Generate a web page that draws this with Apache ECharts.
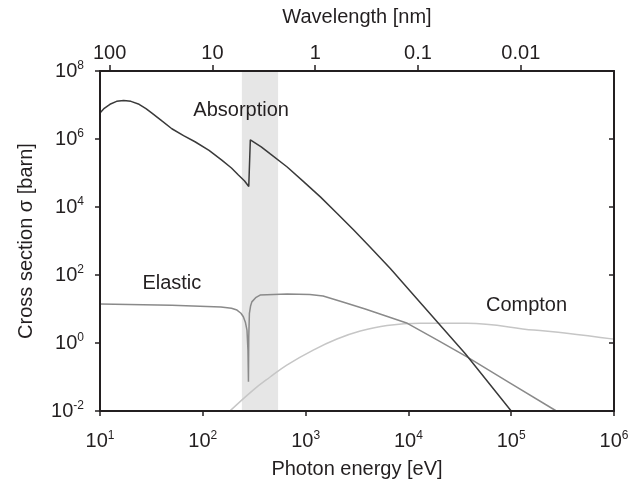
<!DOCTYPE html>
<html>
<head>
<meta charset="utf-8">
<script src="https://cdn.jsdelivr.net/npm/echarts@6/dist/echarts.min.js"></script>
<style>
  html, body { margin: 0; padding: 0; background: #fff; }
  #chart { width: 631px; height: 481px; }
</style>
</head>
<body>
<div id="chart"></div>
<script>
// photon energy [eV] <-> wavelength [nm]
const HC = 1239.84;

// absorption (dark line)
const absEnergy = [10, 11, 12.5, 14.5, 17, 20, 24, 28, 32, 40, 50, 65, 84, 115, 153, 190, 222, 255, 280, 290, 370, 450, 662, 955, 1400, 2018, 2938, 4256, 6668, 10430, 19500, 35800, 100000];
const absSigma = [5.8e6, 8e6, 1.05e7, 1.28e7, 1.35e7, 1.28e7, 1.05e7, 7.8e6, 5.8e6, 3.4e6, 2.0e6, 1.25e6, 8.3e5, 4.6e5, 2.4e5, 1.4e5, 8.7e4, 5.8e4, 4.0e4, 9.5e5, 5.9e5, 3.7e5, 1.5e5, 5.58e4, 1.95e4, 6530, 2100, 653, 155, 33.2, 3.9, 0.48, 0.01];

// elastic (mid grey)
const elaEnergy = [10, 50, 150, 190, 215, 235, 248, 260, 269, 275, 278, 280, 284, 292, 300, 330, 361, 661, 1100, 1479, 2300, 3800, 9770, 19000, 37150, 97700, 275000];
const elaSigma = [14, 13, 11.5, 10.5, 9.3, 7.5, 5.9, 4.0, 2.4, 0.6, 0.072, 1.5, 7.4, 12.5, 16.2, 22, 25.7, 27.5, 26.5, 24, 16, 10, 3.8, 1.23, 0.39, 0.066, 0.01];

// compton (light grey)
const comEnergy = [180, 311, 452, 656, 1186, 2018, 3404, 6194, 13060, 37150, 166000, 347000, 1000000];
const comSigma = [0.0095, 0.042, 0.1, 0.225, 0.62, 1.31, 2.25, 3.27, 3.8, 3.8, 2.4, 1.95, 1.3];

// ticks
const energyTicks = [10, 100, 1000, 10000, 100000, 1000000];
const sigmaTicks = [0.01, 1, 100, 10000, 1e6, 1e8];
const wavelengthTicks = [100, 10, 1, 0.1, 0.01];

// shaded band [eV]
const bandEdges = [240, 540];

var chartDom = document.getElementById('chart');
var myChart = echarts.init(chartDom);

const ink = '#231f20';
const font = '"Liberation Sans", Arial, sans-serif';

function pow10Label(v) {
  const e = Math.round(Math.log10(v));
  return '{b|10}{s|' + e + '}';
}
const powRich = {
  b: { fontSize: 20, color: ink, fontFamily: font, lineHeight: 22 },
  s: { fontSize: 12, color: ink, fontFamily: font, verticalAlign: 'top', lineHeight: 12 }
};

function pairs(xs, ys) {
  return xs.map((x, i) => [x, ys[i]]);
}

var option = {
  animation: false,
  textStyle: { fontFamily: font },
  grid: { left: 100, right: 17, top: 71, bottom: 70, outerBoundsMode: 'none' },
  xAxis: [
    {
      type: 'log',
      position: 'bottom',
      min: 10,
      max: 1e6,
      z: 5,
      name: 'Photon energy [eV]',
      nameLocation: 'middle',
      nameGap: 48,
      nameTextStyle: { fontSize: 20, color: ink, fontFamily: font },
      axisLine: { show: true, lineStyle: { color: ink, width: 2 } },
      axisTick: { show: true, inside: false, length: 5, customValues: energyTicks, lineStyle: { color: ink, width: 1.5 } },
      axisLabel: { customValues: energyTicks, margin: 19, formatter: pow10Label, rich: powRich },
      splitLine: { show: false },
      minorTick: { show: false }
    },
    {
      type: 'log',
      position: 'top',
      min: HC / 1e6,
      max: HC / 10,
      inverse: true,
      z: 5,
      name: 'Wavelength [nm]',
      nameLocation: 'middle',
      nameGap: 44,
      nameTextStyle: { fontSize: 20, color: ink, fontFamily: font },
      axisLine: { show: true, lineStyle: { color: ink, width: 2 } },
      axisTick: { show: true, inside: false, length: 6, customValues: wavelengthTicks, lineStyle: { color: ink, width: 1.5 } },
      axisLabel: {
        customValues: wavelengthTicks,
        margin: 8,
        fontSize: 20,
        color: ink,
        fontFamily: font,
        formatter: function (v) { return String(+Number(v).toPrecision(3)); }
      },
      splitLine: { show: false }
    }
  ],
  yAxis: [
    {
      type: 'log',
      position: 'left',
      min: 0.01,
      max: 1e8,
      z: 5,
      name: 'Cross section σ [barn]',
      nameLocation: 'middle',
      nameGap: 64,
      nameRotate: 90,
      nameTextStyle: { fontSize: 20, color: ink, fontFamily: font },
      axisLine: { show: true, lineStyle: { color: ink, width: 2 } },
      axisTick: { show: true, inside: false, length: 5, customValues: sigmaTicks, lineStyle: { color: ink, width: 1.5 } },
      axisLabel: { customValues: sigmaTicks, margin: 16, formatter: pow10Label, rich: powRich },
      splitLine: { show: false }
    },
    {
      type: 'log',
      position: 'right',
      min: 0.01,
      max: 1e8,
      z: 5,
      axisLine: { show: true, lineStyle: { color: ink, width: 2 } },
      axisTick: { show: true, inside: true, length: 5, customValues: sigmaTicks, lineStyle: { color: ink, width: 1.5 } },
      axisLabel: { show: false },
      splitLine: { show: false }
    }
  ],
  series: [
    {
      name: 'Compton',
      type: 'line',
      xAxisIndex: 0,
      yAxisIndex: 0,
      data: pairs(comEnergy, comSigma),
      smooth: 0.4,
      symbol: 'none',
      lineStyle: { color: '#c6c6c6', width: 1.5 },
      markArea: {
        silent: true,
        itemStyle: { color: '#e6e6e6' },
        data: [[{ xAxis: bandEdges[0] }, { xAxis: bandEdges[1] }]]
      },
      markPoint: {
        symbol: 'circle',
        symbolSize: 0,
        label: { show: true, position: 'inside', formatter: 'Compton', fontSize: 20, color: ink, fontFamily: font },
        data: [{ coord: [1.41e5, 13] }]
      }
    },
    {
      name: 'Elastic',
      type: 'line',
      xAxisIndex: 0,
      yAxisIndex: 0,
      data: pairs(elaEnergy, elaSigma),
      smooth: false,
      symbol: 'none',
      lineStyle: { color: '#8a8a8a', width: 1.5 },
      markPoint: {
        symbol: 'circle',
        symbolSize: 0,
        label: { show: true, position: 'inside', formatter: 'Elastic', fontSize: 20, color: ink, fontFamily: font },
        data: [{ coord: [50, 58] }]
      }
    },
    {
      name: 'Absorption',
      type: 'line',
      xAxisIndex: 0,
      yAxisIndex: 0,
      data: pairs(absEnergy, absSigma),
      smooth: false,
      symbol: 'none',
      lineStyle: { color: '#3a3a3a', width: 1.5 },
      markPoint: {
        symbol: 'circle',
        symbolSize: 0,
        label: { show: true, position: 'inside', formatter: 'Absorption', fontSize: 20, color: ink, fontFamily: font },
        data: [{ coord: [236, 6.9e6] }]
      }
    }
  ]
};

option && myChart.setOption(option);
</script>
</body>
</html>
